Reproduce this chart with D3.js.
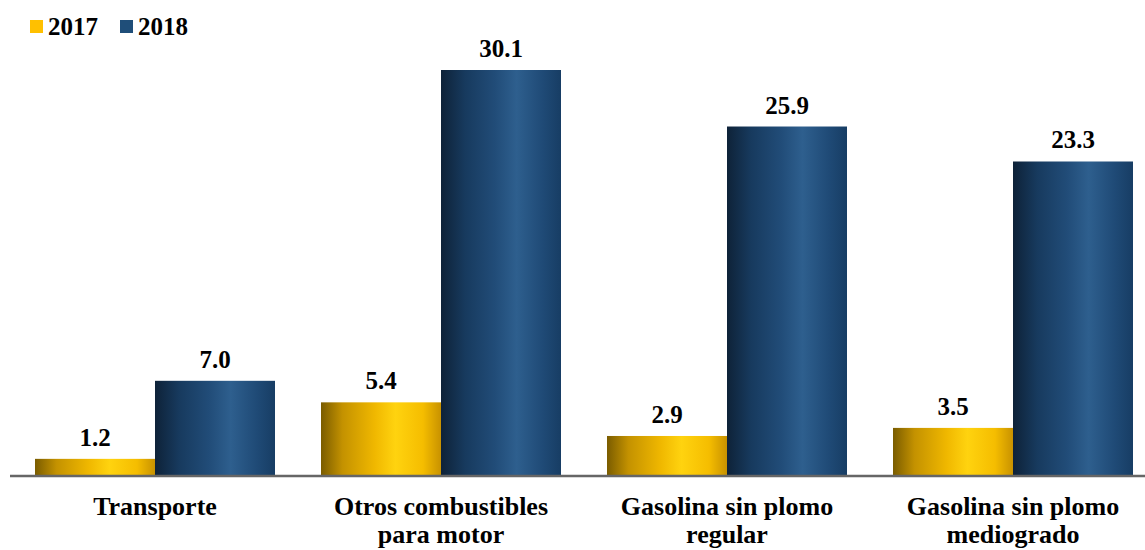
<!DOCTYPE html>
<html>
<head>
<meta charset="utf-8">
<script src="https://cdn.jsdelivr.net/npm/d3@7"></script>
<style>
  html, body { margin: 0; padding: 0; background: #ffffff; }
  svg { display: block; }
  text { font-family: "Liberation Serif", "Times New Roman", serif; font-weight: bold; fill: #000; }
</style>
</head>
<body>
<svg id="chart" width="1145" height="550"></svg>
<script>
// Categories (two-line labels) and values per year
const categories = ["Transporte", "Otros combustibles para motor", "Gasolina sin plomo regular", "Gasolina sin plomo mediogrado"];
const categoryLines = [["Transporte"], ["Otros combustibles", "para motor"], ["Gasolina sin plomo", "regular"], ["Gasolina sin plomo", "mediogrado"]];
const years = ["2017", "2018"];
const values2017 = [1.2, 5.4, 2.9, 3.5];
const values2018 = [7.0, 30.1, 25.9, 23.3];

const W = 1145, H = 550;
const baseY = 475;
const svg = d3.select("#chart");

// Gradients giving the bars a cylindrical sheen
const defs = svg.append("defs");
const gold = defs.append("linearGradient").attr("id", "gGold").attr("x1", "0").attr("x2", "1").attr("y1", "0").attr("y2", "0");
[[0, "#7a5c00"], [0.18, "#c49200"], [0.45, "#f0b800"], [0.62, "#ffd30f"], [0.85, "#f5bd00"], [1, "#c89200"]]
  .forEach(([o, c]) => gold.append("stop").attr("offset", o).attr("stop-color", c));
const blue = defs.append("linearGradient").attr("id", "gBlue").attr("x1", "0").attr("x2", "1").attr("y1", "0").attr("y2", "0");
[[0, "#0e2238"], [0.2, "#173a5e"], [0.45, "#214c78"], [0.63, "#2e5f8e"], [0.85, "#1f4a76"], [1, "#173d64"]]
  .forEach(([o, c]) => blue.append("stop").attr("offset", o).attr("stop-color", c));

// Groups: 4 bands, each holding a pair of bars
const x0 = d3.scaleBand().domain(categories).range([35, 1133]).paddingInner(46 / 286).paddingOuter(0);
const x1 = d3.scaleBand().domain(years).range([0, x0.bandwidth()]);
const y = d3.scaleLinear().domain([0, 30.1]).range([baseY, 70]);

const fills = { "2017": "url(#gGold)", "2018": "url(#gBlue)" };
const series = categories.map((c, i) => [
  { cat: c, year: "2017", v: values2017[i] },
  { cat: c, year: "2018", v: values2018[i] }
]).flat();

const bars = svg.append("g");
bars.selectAll("rect").data(series).join("rect")
  .attr("x", d => x0(d.cat) + x1(d.year))
  .attr("y", d => y(d.v))
  .attr("width", x1.bandwidth())
  .attr("height", d => baseY - y(d.v))
  .attr("fill", d => fills[d.year]);

// Value labels above each bar
svg.append("g").selectAll("text").data(series).join("text")
  .attr("x", d => x0(d.cat) + x1(d.year) + x1.bandwidth() / 2)
  .attr("y", d => y(d.v) - 13)
  .attr("text-anchor", "middle")
  .attr("font-size", 25)
  .text(d => d.v.toFixed(1));

// Baseline axis
svg.append("line")
  .attr("x1", 10).attr("x2", W).attr("y1", baseY + 1).attr("y2", baseY + 1)
  .attr("stroke", "#666666").attr("stroke-width", 2.5);

// Category labels
const catG = svg.append("g");
categories.forEach((c, i) => {
  const cx = x0(c) + x0.bandwidth() / 2;
  const t = catG.append("text")
    .attr("x", cx)
    .attr("y", 515)
    .attr("text-anchor", "middle")
    .attr("font-size", 26);
  categoryLines[i].forEach((line, j) => {
    t.append("tspan").attr("x", cx).attr("dy", j === 0 ? 0 : 28).text(line);
  });
});

// Legend
const legendColors = { "2017": "#ffc000", "2018": "#1f4e79" };
const lg = svg.append("g");
[["2017", 30], ["2018", 120]].forEach(([yr, lx]) => {
  lg.append("rect").attr("x", lx).attr("y", 20).attr("width", 13).attr("height", 13).attr("fill", legendColors[yr]);
  lg.append("text").attr("x", lx + 18).attr("y", 35).attr("font-size", 25).text(yr);
});
</script>
</body>
</html>
